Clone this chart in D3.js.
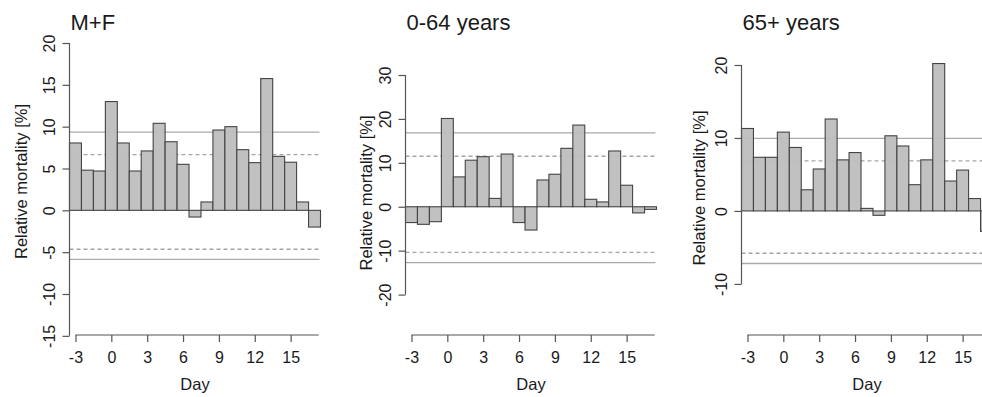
<!DOCTYPE html>
<html>
<head>
<meta charset="utf-8">
<script src="https://cdn.jsdelivr.net/npm/d3@7"></script>
<style>
  body { margin: 0; background: #fff; }
  svg { display: block; font-family: "Liberation Sans", Arial, sans-serif; }
</style>
</head>
<body>
<svg id="chart" width="982" height="397"></svg>
<script>
// days relative to event
const days = [-3, -2, -1, 0, 1, 2, 3, 4, 5, 6, 7, 8, 9, 10, 11, 12, 13, 14, 15, 16, 17];
const dayTicks = [-3, 0, 3, 6, 9, 12, 15];

const titles = ["M+F", "0-64 years", "65+ years"];

// relative mortality [%] per day
const allValues = [8.05, 4.8, 4.7, 13.0, 8.05, 4.7, 7.1, 10.4, 8.2, 5.5, -0.8, 1.0, 9.6, 10.0, 7.25, 5.7, 15.75, 6.45, 5.75, 1.0, -2.0];
const youngValues = [-3.6, -4.0, -3.4, 20.1, 6.8, 10.6, 11.4, 1.9, 12.0, -3.6, -5.3, 6.1, 7.4, 13.3, 18.6, 1.7, 1.1, 12.7, 4.9, -1.4, -0.6];
const oldValues = [11.3, 7.35, 7.35, 10.8, 8.7, 2.9, 5.75, 12.6, 7.0, 8.0, 0.35, -0.6, 10.3, 8.9, 3.6, 7.0, 20.2, 4.1, 5.6, 1.7, -2.8];

// reference lines: upper solid, upper dashed, lower dashed, lower solid
const allLimits = [9.35, 6.65, -4.65, -5.85];
const youngLimits = [16.8, 11.5, -10.4, -12.7];
const oldLimits = [9.95, 6.85, -5.8, -7.2];

const allTicks = [-15, -10, -5, 0, 5, 10, 15, 20];
const youngTicks = [-20, -10, 0, 10, 20, 30];
const oldTicks = [-10, 0, 10, 20];

const panels = [
  { title: titles[0], values: allValues, limits: allLimits, ticks: allTicks, yMin: -14.9, yTop: 43, labelY: 181.5, labelOff: 42.5 },
  { title: titles[1], values: youngValues, limits: youngLimits, ticks: youngTicks, yMin: -29.2, yTop: 75, labelY: 193, labelOff: 33.5 },
  { title: titles[2], values: oldValues, limits: oldLimits, ticks: oldTicks, yMin: -17, yTop: 65, labelY: 188, labelOff: 36.5 }
];

const svg = d3.select("#chart");
const axisY = 335;       // x-axis position
const plotW = 251;
const axisColor = "#555";
const fmt = d => String(d);  // plain hyphen minus like R

panels.forEach((p, i) => {
  const left = 69.5 + 336 * i;
  const g = svg.append("g");

  const x = d3.scaleLinear().domain([-3.5, 17.5]).range([left, left + plotW]);
  const yMax = d3.max(p.ticks);
  const y = d3.scaleLinear().domain([p.yMin, yMax]).range([axisY, p.yTop]);

  // reference lines
  p.limits.forEach((v, k) => {
    g.append("line")
      .attr("x1", left).attr("x2", left + plotW - 1)
      .attr("y1", y(v)).attr("y2", y(v))
      .attr("stroke", (k === 0 || k === 3) ? "#aaa" : "#a5a5a5")
      .attr("stroke-width", 1.3)
      .attr("stroke-dasharray", (k === 1 || k === 2) ? "4,3" : null);
  });

  // bars
  g.selectAll("rect.bar")
    .data(days.map((d, j) => ({ day: d, v: p.values[j] })))
    .join("rect")
    .attr("class", "bar")
    .attr("x", d => x(d.day - 0.5))
    .attr("width", d => x(d.day + 0.5) - x(d.day - 0.5))
    .attr("y", d => y(Math.max(0, d.v)))
    .attr("height", d => Math.abs(y(d.v) - y(0)))
    .attr("fill", "#bebebe")
    .attr("fill-opacity", 0.95)
    .attr("stroke", "#444")
    .attr("stroke-width", 1.1);

  // y axis
  const yAxis = g.append("g")
    .attr("transform", `translate(${left},0)`)
    .call(d3.axisLeft(y).tickValues(p.ticks).tickFormat(fmt).tickSize(7).tickSizeOuter(0));
  yAxis.select(".domain").remove();
  yAxis.append("line")
    .attr("y1", y(d3.min(p.ticks))).attr("y2", y(yMax))
    .attr("stroke", axisColor).attr("stroke-width", 1.2);
  yAxis.selectAll(".tick line").attr("stroke", axisColor).attr("stroke-width", 1.2);
  yAxis.selectAll(".tick text")
    .attr("x", null).attr("dy", null)
    .attr("transform", "translate(-15,0) rotate(-90)")
    .attr("text-anchor", "middle")
    .attr("fill", "#1a1a1a")
    .attr("font-size", 16);

  // x axis
  const xAxis = g.append("g")
    .attr("transform", `translate(0,${axisY})`)
    .call(d3.axisBottom(x).tickValues(dayTicks).tickFormat(fmt).tickSize(7).tickPadding(9.5).tickSizeOuter(0));
  xAxis.select(".domain").remove();
  xAxis.append("line")
    .attr("x1", x(-3)).attr("x2", x(17.35))
    .attr("stroke", axisColor).attr("stroke-width", 1.2);
  xAxis.selectAll(".tick line").attr("stroke", axisColor).attr("stroke-width", 1.2);
  xAxis.selectAll(".tick text")
    .attr("fill", "#1a1a1a")
    .attr("font-size", 16);

  // axis titles
  g.append("text")
    .attr("x", left + plotW / 2)
    .attr("y", 390)
    .attr("text-anchor", "middle")
    .attr("font-size", 16.5)
    .attr("fill", "#1a1a1a")
    .text("Day");

  g.append("text")
    .attr("transform", `translate(${left - p.labelOff},${p.labelY}) rotate(-90)`)
    .attr("text-anchor", "middle")
    .attr("font-size", 16.5)
    .attr("fill", "#1a1a1a")
    .text("Relative mortality [%]");

  // panel title
  g.append("text")
    .attr("x", left + 1)
    .attr("y", 30)
    .attr("font-size", 22)
    .attr("fill", "#1a1a1a")
    .text(p.title);
});
</script>
</body>
</html>
